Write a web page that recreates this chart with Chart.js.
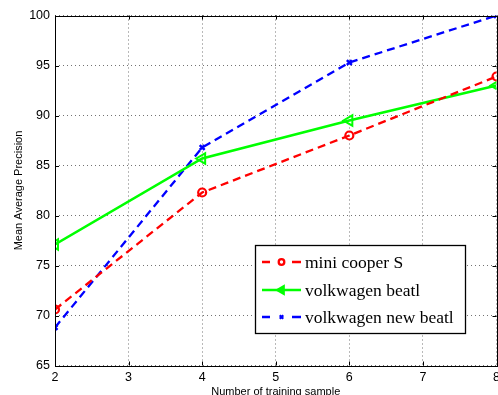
<!DOCTYPE html>
<html>
<head>
<meta charset="utf-8">
<script src="https://cdn.jsdelivr.net/npm/chart.js@4"></script>
<style>
  html, body { margin: 0; padding: 0; background: #fff; }
  #wrap { width: 498px; height: 395px; position: relative; }
</style>
</head>
<body>
<div id="wrap"><canvas id="grafico"></canvas></div>
<script>
// dados
const trainingSamples = [2, 4, 6, 8];
const miniCooper = [70.6, 82.3, 88.0, 93.9];
const beatl = [77.1, 85.7, 89.5, 93.0];
const newBeatl = [68.8, 86.8, 95.3, 100.0];
const xTicks = [2, 3, 4, 5, 6, 7, 8];
const yTicks = [65, 70, 75, 80, 85, 90, 95, 100];

const pts = (vals) => trainingSamples.map((x, i) => ({ x: x, y: vals[i] }));

// caixa preta em volta do grafico + ticks para dentro (estilo matlab)
const boxPlugin = {
    id: 'box',
    afterDatasetsDraw(chart) {
        const { ctx, chartArea: a, scales } = chart;
        ctx.save();
        ctx.strokeStyle = '#000';
        ctx.lineWidth = 1;
        ctx.setLineDash([]);
        ctx.beginPath();
        xTicks.forEach(v => {
            const px = Math.round(scales.x.getPixelForValue(v)) + 0.5;
            ctx.moveTo(px, a.bottom); ctx.lineTo(px, a.bottom - 4);
            ctx.moveTo(px, a.top); ctx.lineTo(px, a.top + 4);
        });
        yTicks.forEach(v => {
            const py = Math.round(scales.y.getPixelForValue(v)) + 0.5;
            ctx.moveTo(a.left, py); ctx.lineTo(a.left + 4, py);
            ctx.moveTo(a.right, py); ctx.lineTo(a.right - 4, py);
        });
        ctx.stroke();
        ctx.strokeRect(Math.round(a.left) + 0.5, Math.round(a.top) + 0.5,
            Math.round(a.right - a.left), Math.round(a.bottom - a.top));
        ctx.restore();
    },
    afterDraw(chart) {
        // legenda desenhada a mao, dentro da area do grafico
        const { ctx } = chart;
        const bx = 255, by = 245, bw = 210, bh = 88;
        ctx.save();
        ctx.fillStyle = '#fff';
        ctx.fillRect(bx, by, bw, bh);
        ctx.strokeStyle = '#000';
        ctx.lineWidth = 1.3;
        ctx.setLineDash([]);
        ctx.strokeRect(bx + 0.5, by + 0.5, bw, bh);
        const rows = [262, 290, 317];
        chart.data.datasets.forEach((ds, i) => {
            const y = rows[i];
            ctx.strokeStyle = ds.borderColor;
            ctx.fillStyle = ds.pointStyle === 'circle' ? 'rgba(0,0,0,0)' : ds.borderColor;
            ctx.lineWidth = ds.borderWidth;
            ctx.beginPath();
            if (ds.borderDash) {
                ctx.moveTo(262, y); ctx.lineTo(270, y);
                ctx.moveTo(292, y); ctx.lineTo(301, y);
            } else {
                ctx.moveTo(262, y); ctx.lineTo(301, y);
            }
            ctx.stroke();
            Chart.helpers.drawPoint(ctx, {
                pointStyle: ds.pointStyle,
                rotation: ds.pointRotation || 0,
                radius: ds.pointRadius * 0.7,
                borderWidth: ds.pointBorderWidth
            }, 281.5, y);
            ctx.fillStyle = '#000';
            ctx.font = '17.5px "Liberation Serif", "Times New Roman", serif';
            ctx.textBaseline = 'middle';
            ctx.fillText(ds.label, 305, y + 1);
        });
        ctx.restore();
    }
};

new Chart(document.getElementById('grafico'), {
    type: 'line',
    data: {
        datasets: [
            {
                label: 'mini cooper S',
                data: pts(miniCooper),
                borderColor: '#ff0000',
                backgroundColor: 'rgba(0,0,0,0)',
                borderWidth: 2.3,
                borderDash: [8, 5],
                pointStyle: 'circle',
                pointRadius: 4,
                pointBorderWidth: 2.2,
                pointBorderColor: '#ff0000',
                tension: 0
            },
            {
                label: 'volkwagen beatl',
                data: pts(beatl),
                borderColor: '#00ff00',
                backgroundColor: 'rgba(0,0,0,0)',
                borderWidth: 2.5,
                pointStyle: 'triangle',
                pointRotation: -90,
                pointRadius: 6,
                pointBorderWidth: 2,
                pointBorderColor: '#00ff00',
                tension: 0
            },
            {
                label: 'volkwagen new beatl',
                data: pts(newBeatl),
                borderColor: '#0000ff',
                backgroundColor: 'rgba(0,0,0,0)',
                borderWidth: 2.3,
                borderDash: [8, 5],
                pointStyle: 'crossRot',
                pointRadius: 3.5,
                pointBorderWidth: 2.5,
                pointBorderColor: '#0000ff',
                tension: 0
            }
        ]
    },
    options: {
        responsive: true,
        maintainAspectRatio: false,
        animation: false,
        layout: { autoPadding: false, padding: { left: 0, right: 1.5, top: 15.5, bottom: 0 } },
        plugins: { legend: { display: false }, tooltip: { enabled: false } },
        scales: {
            x: {
                type: 'linear',
                min: 2, max: 8,
                afterBuildTicks: (s) => { s.ticks = xTicks.map(v => ({ value: v })); },
                afterFit: (s) => { s.height = 29.5; s.paddingLeft = 0; s.paddingRight = 0; },
                grid: { color: 'rgba(0,0,0,0.55)', drawTicks: false },
                border: { display: false, dash: [1, 3] },
                ticks: { color: '#000', padding: 5, font: { family: 'Liberation Sans, Arial', size: 12.5 } },
                title: {
                    display: true,
                    text: 'Number of training sample',
                    color: '#000',
                    padding: { top: 0, bottom: -4 },
                    font: { family: 'Liberation Sans, Arial', size: 11 }
                }
            },
            y: {
                min: 65, max: 100,
                afterBuildTicks: (s) => { s.ticks = yTicks.map(v => ({ value: v })); },
                afterFit: (s) => { s.width = 55; s.paddingTop = 0; s.paddingBottom = 0; },
                grid: { color: 'rgba(0,0,0,0.55)', drawTicks: false },
                border: { display: false, dash: [1, 3] },
                ticks: { color: '#000', padding: 5, font: { family: 'Liberation Sans, Arial', size: 12.5 } },
                title: {
                    display: true,
                    text: 'Mean Average Precision',
                    color: '#000',
                    padding: { top: 12, bottom: 0 },
                    font: { family: 'Liberation Sans, Arial', size: 11 }
                }
            }
        }
    },
    plugins: [boxPlugin]
});
</script>
</body>
</html>
